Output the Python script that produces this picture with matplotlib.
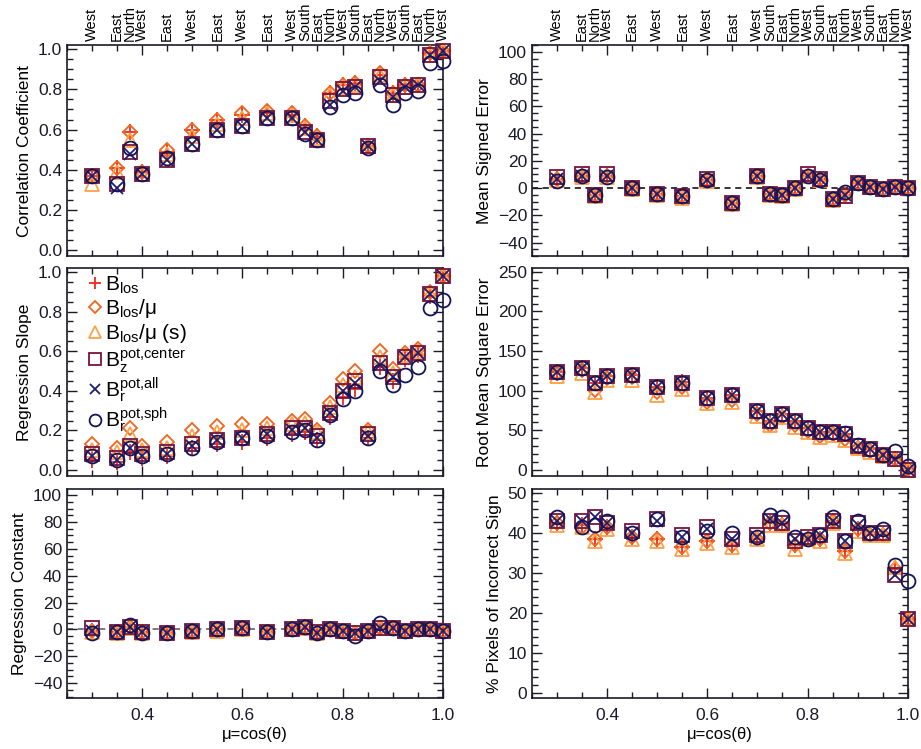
import numpy as np
import matplotlib
matplotlib.use('Agg')
import matplotlib.pyplot as plt
from matplotlib.ticker import MultipleLocator

plt.rcParams['font.family'] = ['Liberation Sans', 'DejaVu Sans']
plt.rcParams['mathtext.default'] = 'regular'

# viewing angle of each observation and its direction from disk centre
mu = [0.30, 0.35, 0.375, 0.40, 0.45, 0.50, 0.55, 0.60, 0.65, 0.70, 0.725,
      0.75, 0.775, 0.80, 0.825, 0.85, 0.875, 0.90, 0.925, 0.95, 0.975, 1.00]
direction = ['West', 'East', 'North', 'West', 'East', 'West', 'East', 'West',
             'East', 'West', 'South', 'East', 'North', 'West', 'South', 'East',
             'North', 'West', 'South', 'East', 'North', 'West']

# correlation coefficient
cc_los = [0.37, 0.41, 0.59, 0.39, 0.49, 0.60, 0.65, 0.67, 0.68, 0.67, 0.62, 0.57, 0.78, 0.82, 0.83, 0.52, 0.87, 0.78, 0.82, 0.82, 0.98, 0.99]
cc_losmu = [0.37, 0.41, 0.59, 0.39, 0.50, 0.60, 0.65, 0.68, 0.69, 0.68, 0.62, 0.57, 0.78, 0.82, 0.83, 0.52, 0.88, 0.78, 0.82, 0.82, 0.98, 0.99]
cc_losmu_s = [0.33, 0.39, 0.55, 0.38, 0.48, 0.57, 0.63, 0.66, 0.68, 0.67, 0.61, 0.56, 0.77, 0.81, 0.82, 0.52, 0.87, 0.77, 0.81, 0.82, 0.97, 0.99]
cc_bz = [0.37, 0.33, 0.49, 0.38, 0.45, 0.53, 0.60, 0.62, 0.66, 0.66, 0.59, 0.55, 0.74, 0.80, 0.81, 0.52, 0.86, 0.77, 0.81, 0.82, 0.97, 0.99]
cc_br_all = [0.37, 0.31, 0.48, 0.38, 0.45, 0.53, 0.60, 0.62, 0.66, 0.66, 0.59, 0.55, 0.72, 0.79, 0.81, 0.52, 0.84, 0.76, 0.81, 0.82, 0.97, 0.99]
cc_br_sph = [0.37, 0.33, 0.51, 0.38, 0.46, 0.53, 0.60, 0.62, 0.66, 0.66, 0.58, 0.55, 0.71, 0.77, 0.78, 0.51, 0.82, 0.72, 0.78, 0.79, 0.93, 0.94]

# regression slope
rs_los = [0.05, 0.04, 0.09, 0.06, 0.07, 0.11, 0.13, 0.14, 0.16, 0.18, 0.19, 0.15, 0.27, 0.37, 0.41, 0.16, 0.52, 0.45, 0.56, 0.58, 0.88, 0.98]
rs_losmu = [0.13, 0.11, 0.21, 0.12, 0.14, 0.20, 0.22, 0.23, 0.23, 0.25, 0.26, 0.20, 0.34, 0.46, 0.50, 0.20, 0.60, 0.51, 0.59, 0.61, 0.90, 0.98]
rs_losmu_s = [0.10, 0.09, 0.18, 0.10, 0.11, 0.17, 0.19, 0.20, 0.21, 0.23, 0.24, 0.19, 0.32, 0.43, 0.47, 0.19, 0.57, 0.49, 0.58, 0.60, 0.89, 0.98]
rs_bz = [0.08, 0.06, 0.12, 0.08, 0.09, 0.13, 0.15, 0.16, 0.18, 0.21, 0.21, 0.17, 0.29, 0.40, 0.45, 0.18, 0.54, 0.47, 0.57, 0.59, 0.89, 0.98]
rs_br_all = [0.07, 0.05, 0.11, 0.07, 0.08, 0.12, 0.15, 0.16, 0.18, 0.20, 0.21, 0.16, 0.29, 0.40, 0.44, 0.17, 0.53, 0.47, 0.57, 0.59, 0.89, 0.98]
rs_br_sph = [0.07, 0.05, 0.11, 0.07, 0.08, 0.11, 0.14, 0.16, 0.17, 0.19, 0.20, 0.15, 0.28, 0.36, 0.40, 0.16, 0.50, 0.43, 0.48, 0.52, 0.82, 0.86]

# regression constant
rc_los = [-1, -2, 2, -2, -3, -1, 0, 1, -2, 0, 2, -3, 0, -1, -3, -1, 1, 1, -1, 0, 0, -1]
rc_losmu = [-1, -2, 2, -2, -3, -1, 0, 1, -2, 0, 2, -3, 0, -1, -3, -1, 1, 1, -1, 0, 0, -1]
rc_losmu_s = [-2, -3, 1, -3, -3, -2, -1, 0, -2, 0, 1, -3, 0, -1, -3, -1, 1, 1, -1, 0, 0, -1]
rc_bz = [1, -2, 2, -2, -3, -1, 0, 1, -2, 0, 2, -2, 0, -1, -3, -1, 1, 1, -1, 0, 0, -1]
rc_br_all = [-1, -2, 2, -2, -3, -1, 0, 1, -2, 0, 2, -3, 0, -1, -3, -1, 1, 1, -1, 0, 0, -1]
rc_br_sph = [-3, -2, 3, -3, -3, -1, 0, 1, -2, 0, 2, -3, 0, -1, -5, -1, 5, 1, -1, 0, 0, -1]

# mean signed error
mse_los = [7, 9, -5, 9, 0, -4, -6, 6, -11, 9, -4, -5, 0, 9, 7, -8, -5, 4, 1, -1, 1, 0]
mse_losmu = [7, 9, -5, 9, 0, -4, -6, 6, -11, 9, -4, -5, 0, 9, 7, -8, -5, 4, 1, -1, 1, 0]
mse_losmu_s = [6, 8, -6, 8, -1, -5, -7, 5, -12, 8, -5, -6, -1, 9, 6, -9, -6, 4, 1, -1, 1, 0]
mse_bz = [8, 10, -5, 10, 0, -4, -6, 7, -11, 9, -4, -5, 0, 10, 7, -8, -6, 4, 1, -1, 1, 0]
mse_br_all = [7, 9, -5, 9, 0, -4, -6, 6, -11, 9, -4, -5, 0, 9, 7, -8, -5, 4, 1, -1, 1, 0]
mse_br_sph = [5, 9, -5, 8, 0, -4, -6, 6, -11, 9, -4, -5, 0, 9, 6, -8, -3, 4, 1, -1, 1, 0]

# root mean square error
rmse_los = [124, 129, 109, 118, 120, 105, 111, 91, 94, 74, 61, 70, 61, 53, 48, 48, 45, 30, 26, 19, 14, 1]
rmse_losmu = [122, 126, 101, 116, 117, 98, 104, 86, 88, 70, 57, 67, 56, 49, 43, 45, 39, 28, 24, 18, 14, 1]
rmse_losmu_s = [119, 122, 98, 113, 113, 95, 102, 84, 86, 68, 56, 66, 54, 47, 41, 44, 37, 27, 22, 17, 13, 0]
rmse_bz = [123, 129, 109, 118, 120, 105, 110, 91, 94, 74, 61, 70, 61, 53, 48, 48, 45, 30, 26, 19, 14, 0]
rmse_br_all = [123, 129, 109, 118, 120, 105, 110, 91, 94, 74, 61, 70, 61, 53, 48, 48, 45, 30, 26, 19, 14, 0]
rmse_br_sph = [123, 129, 109, 118, 120, 105, 110, 91, 94, 74, 61, 70, 61, 53, 48, 48, 46, 31, 26, 19, 23, 5]

# percentage of pixels with the wrong sign
pis_los = [42.5, 42, 38.5, 41.5, 39, 38.5, 36.5, 38, 37, 38.5, 42.5, 42, 37, 38.5, 38.5, 43, 35.5, 41, 39.5, 39.5, 31, 18.5]
pis_losmu = [42.5, 41.5, 38.5, 41.5, 39, 38.5, 36.5, 38, 37, 38.5, 42.5, 42, 37, 38.5, 38.5, 43, 35.5, 41, 39.5, 39.5, 31, 18.5]
pis_losmu_s = [42, 41.5, 38, 41, 38.5, 38, 36, 37.5, 36.5, 38.5, 42, 42, 36, 38.5, 38, 42.5, 35, 40.5, 39.5, 39.5, 31.5, 18.5]
pis_bz = [43, 43, 44, 42.5, 40.5, 43.5, 39.5, 41.5, 38.5, 39.5, 43, 42.5, 38, 39, 39.5, 43, 38, 42.5, 40, 40, 29.5, 18.5]
pis_br_all = [43, 43, 44, 42.5, 40, 43, 39, 41, 38.5, 39, 43.5, 42.5, 38.5, 38.5, 39.5, 43, 38, 42, 40, 40, 29.5, 18.5]
pis_br_sph = [44, 41.5, 42, 43, 40, 43.5, 39, 40.5, 40, 39, 44.5, 44, 39, 38.5, 39.5, 44, 38, 43, 40, 41, 32, 28]

labels = [r'B$_{los}$', r'B$_{los}$/μ', r'B$_{los}$/μ (s)',
          r'B$_{z}^{pot{,}center}$', r'B$_{r}^{pot{,}all}$', r'B$_{r}^{pot{,}sph}$']
# marker, size, colour
styles = [('+', 11, '#f02a1e'), ('D', 7.5, '#f2641e'), ('^', 10, '#ffa046'),
          ('s', 10, '#78143c'), ('x', 9, '#1e1e6e'), ('o', 10, '#14145a')]

panels = [
    # (row, col, series, ylabel, ylim, major, minor, zero line)
    (0, 0, [cc_los, cc_losmu, cc_losmu_s, cc_bz, cc_br_all, cc_br_sph],
     'Correlation Coefficient', (-0.03, 1.02), 0.2, 0.05, None),
    (1, 0, [rs_los, rs_losmu, rs_losmu_s, rs_bz, rs_br_all, rs_br_sph],
     'Regression Slope', (-0.03, 1.02), 0.2, 0.05, None),
    (2, 0, [rc_los, rc_losmu, rc_losmu_s, rc_bz, rc_br_all, rc_br_sph],
     'Regression Constant', (-51, 104.5), 20, 5, '#555560'),
    (0, 1, [mse_los, mse_losmu, mse_losmu_s, mse_bz, mse_br_all, mse_br_sph],
     'Mean Signed Error', (-50, 105), 20, 5, '#000000'),
    (1, 1, [rmse_los, rmse_losmu, rmse_losmu_s, rmse_bz, rmse_br_all, rmse_br_sph],
     'Root Mean Square Error', (-8, 255), 50, 10, None),
    (2, 1, [pis_los, pis_losmu, pis_losmu_s, pis_bz, pis_br_all, pis_br_sph],
     '% Pixels of Incorrect Sign', (-1.3, 51), 10, 2, None),
]

col_x = [0.0727, 0.5776]
col_w = 0.408
row_y = [(0.658, 0.2817), (0.3645, 0.2777), (0.0681, 0.279)]

fig = plt.figure(figsize=(9.21, 7.49), dpi=100)
axes = {}
for row, col, series, ylabel, ylim, major, minor, zero in panels:
    ax = fig.add_axes([col_x[col], row_y[row][0], col_w, row_y[row][1]])
    axes[(row, col)] = ax
    if zero:
        ax.axhline(0, color=zero, lw=1.1, ls=(0, (4, 3)), zorder=1)
    handles = []
    for vals, (mk, ms, c), lab in zip(series, styles, labels):
        h, = ax.plot(mu, vals, ls='none', marker=mk, ms=ms, mew=1.3,
                     mec=c, mfc='none', label=lab, clip_on=False, zorder=3)
        handles.append(h)
    ax.set_xlim(0.25, 1.0)
    ax.set_ylim(*ylim)
    ax.xaxis.set_major_locator(MultipleLocator(0.2))
    ax.xaxis.set_minor_locator(MultipleLocator(0.05))
    ax.yaxis.set_major_locator(MultipleLocator(major))
    ax.yaxis.set_minor_locator(MultipleLocator(minor))
    ax.tick_params(which='both', direction='in', top=True, right=True,
                   labelsize=12.5, colors='#1a1a2a')
    ax.tick_params(which='major', length=7, width=1)
    ax.tick_params(which='minor', length=4, width=1)
    for sp in ax.spines.values():
        sp.set_linewidth(1.2)
        sp.set_color('#1a1a2a')
    ax.set_ylabel(ylabel, fontsize=12.5, labelpad=4)
    if major < 1:
        ax.yaxis.set_major_formatter(matplotlib.ticker.FormatStrFormatter('%.1f'))
    if row == 2:
        ax.set_xlabel('μ=cos(θ)', fontsize=12, labelpad=3)
        ax.tick_params(axis='x', pad=7)
    else:
        ax.tick_params(axis='x', labelbottom=False)
    if row == 0:
        for m, d in zip(mu, direction):
            ax.annotate(d, (m, 1.0), xycoords=('data', 'axes fraction'),
                        xytext=(0, 3), textcoords='offset points',
                        rotation=90, ha='center', va='bottom', fontsize=10.5)
    if (row, col) == (1, 0):
        ax.legend(handles=handles, loc='upper left', frameon=False,
                  fontsize=15, handlelength=0.8, handletextpad=0.1,
                  labelspacing=0.08, borderaxespad=0.2, borderpad=0.1,
                  markerscale=0.85, bbox_to_anchor=(0.035, 1.0))

fig.align_ylabels([axes[(r, 0)] for r in range(3)])
fig.align_ylabels([axes[(r, 1)] for r in range(3)])

fig.savefig('out.png', dpi=100)
